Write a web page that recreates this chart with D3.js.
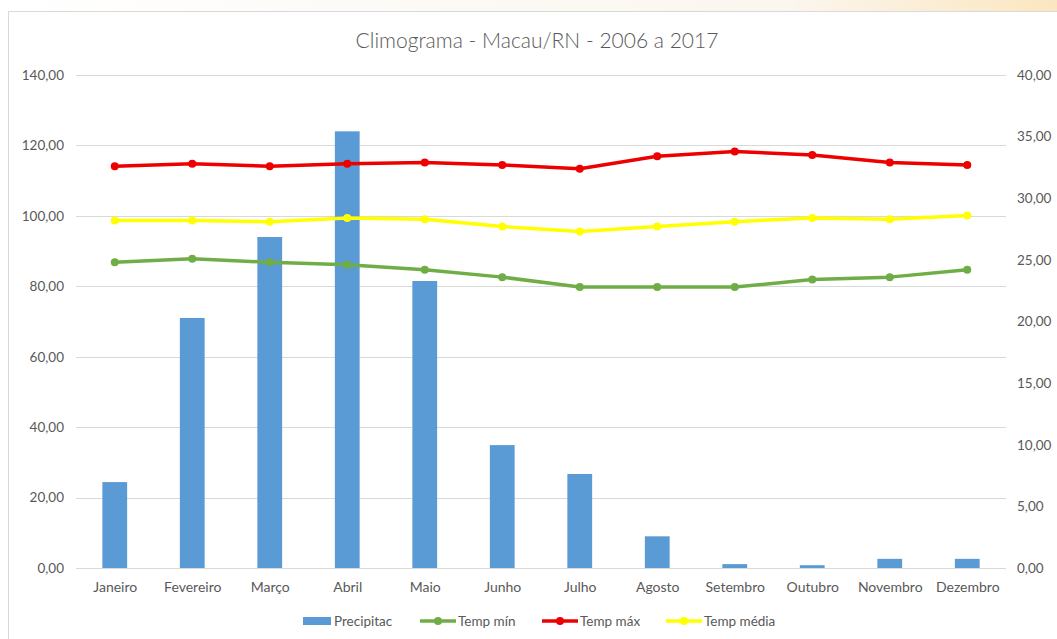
<!DOCTYPE html>
<html><head><meta charset="utf-8">
<script src="https://cdn.jsdelivr.net/npm/d3@7/dist/d3.min.js"></script>
<style>html,body{margin:0;padding:0;background:#fff;}svg{display:block;}</style>
</head><body>
<script>
const months = ["Janeiro","Fevereiro","Março","Abril","Maio","Junho","Julho","Agosto","Setembro","Outubro","Novembro","Dezembro"];
const precip = [24.4, 71.0, 94.0, 124.0, 81.5, 34.9, 26.7, 9.0, 1.1, 0.8, 2.6, 2.6];
const tempMin = [24.8, 25.1, 24.8, 24.6, 24.2, 23.6, 22.8, 22.8, 22.8, 23.4, 23.6, 24.2];
const tempMax = [32.6, 32.8, 32.6, 32.8, 32.9, 32.7, 32.4, 33.4, 33.8, 33.5, 32.9, 32.7];
const tempMed = [28.2, 28.2, 28.1, 28.4, 28.3, 27.7, 27.3, 27.7, 28.1, 28.4, 28.3, 28.6];
const leftTicks = [0,20,40,60,80,100,120,140];
const rightTicks = [0,5,10,15,20,25,30,35,40];
const title = "Climograma - Macau/RN - 2006 a 2017";
const legendLabels = ["Precipitac","Temp mín","Temp máx","Temp média"];

const W = 1057, H = 639;
const font = "Lato, 'Open Sans', sans-serif";
const textCol = "#595959";
const svg = d3.select("body").append("svg").attr("width", W).attr("height", H);

// background strip above chart
const defs = svg.append("defs");
const g1 = defs.append("linearGradient").attr("id","topg").attr("x1","0").attr("x2","1");
g1.append("stop").attr("offset","0").attr("stop-color","#ffffff");
g1.append("stop").attr("offset","0.75").attr("stop-color","#fbf6ee");
g1.append("stop").attr("offset","1").attr("stop-color","#fbe6bf");
svg.append("rect").attr("x",0).attr("y",0).attr("width",W).attr("height",11).attr("fill","url(#topg)");
svg.append("rect").attr("x",0).attr("y",11).attr("width",W).attr("height",H-11).attr("fill","#fff");
svg.append("line").attr("x1",8).attr("x2",W).attr("y1",11.5).attr("y2",11.5).attr("stroke","#d9d9d9");
svg.append("line").attr("x1",8.5).attr("x2",8.5).attr("y1",11).attr("y2",H).attr("stroke","#d9d9d9");

const x0 = 76, x1 = 1006, yTop = 75, yBot = 568;
const x = d3.scaleBand().domain(months).range([x0, x1]).paddingInner(0.68).paddingOuter(0.34);
const xc = d3.scalePoint().domain(months).range([x0, x1]).padding(0.5);
const yL = d3.scaleLinear().domain([0,140]).range([yBot, yTop]);
const yR = d3.scaleLinear().domain([0,40]).range([yBot, yTop]);

// grid
svg.append("g").selectAll("line").data(leftTicks).join("line")
  .attr("x1", x0).attr("x2", x1)
  .attr("y1", d => Math.round(yL(d))+0.5).attr("y2", d => Math.round(yL(d))+0.5)
  .attr("stroke", "#d9d9d9").attr("stroke-width", 1);

// left axis
const axL = svg.append("g").attr("transform", `translate(${x0},0)`)
  .call(d3.axisLeft(yL).tickValues(leftTicks).tickSize(0).tickPadding(12)
    .tickFormat(d => d3.format(".2f")(d).replace(".", ",")));
axL.select(".domain").remove();
axL.selectAll("text").attr("fill", textCol).style("font-family", font).style("font-size","13.5px");

// right axis
const axR = svg.append("g").attr("transform", `translate(${x1},0)`)
  .call(d3.axisRight(yR).tickValues(rightTicks).tickSize(0).tickPadding(11)
    .tickFormat(d => d3.format(".2f")(d).replace(".", ",")));
axR.select(".domain").remove();
axR.selectAll("text").attr("fill", textCol).style("font-family", font).style("font-size","13.5px");

// bottom axis
const axB = svg.append("g").attr("transform", `translate(0,${yBot})`)
  .call(d3.axisBottom(xc).tickSize(0).tickPadding(14));
axB.select(".domain").remove();
axB.selectAll("text").attr("fill", textCol).style("font-family", font).style("font-size","14px");

// bars
svg.append("g").selectAll("rect").data(precip).join("rect")
  .attr("x", (d,i) => x(months[i])).attr("width", x.bandwidth())
  .attr("y", d => yL(d)).attr("height", d => yBot - yL(d))
  .attr("fill", "#5b9bd5");

// lines
const series = [
  {vals: tempMin, color: "#70ad47"},
  {vals: tempMax, color: "#ee0000"},
  {vals: tempMed, color: "#ffff00"}
];
const line = d3.line().x((d,i) => xc(months[i])).y(d => yR(d));
series.forEach(s => {
  svg.append("path").datum(s.vals).attr("d", line).attr("fill","none")
    .attr("stroke", s.color).attr("stroke-width", 3.5).attr("stroke-linejoin","round");
  svg.append("g").selectAll("circle").data(s.vals).join("circle")
    .attr("cx", (d,i) => xc(months[i])).attr("cy", d => yR(d)).attr("r", 4)
    .attr("fill", s.color);
});

// title
svg.append("text").attr("x", 537).attr("y", 48).attr("text-anchor","middle")
  .attr("fill", textCol).style("font-family", font).style("font-size","21px")
  .style("font-weight", 300).text(title);

// legend
const ly = 621;
const lg = svg.append("g");
lg.append("rect").attr("x", 303).attr("y", ly-4).attr("width", 28).attr("height", 8).attr("fill", "#5b9bd5");
lg.append("text").attr("x", 334).attr("y", ly+4.5).attr("fill", textCol).style("font-family", font).style("font-size","13.5px").text(legendLabels[0]);
const lItems = [
  {x: 420, color: "#70ad47", label: legendLabels[1]},
  {x: 542, color: "#ee0000", label: legendLabels[2]},
  {x: 666, color: "#ffff00", label: legendLabels[3]}
];
lItems.forEach(it => {
  lg.append("line").attr("x1", it.x).attr("x2", it.x+36).attr("y1", ly).attr("y2", ly)
    .attr("stroke", it.color).attr("stroke-width", 3.5);
  lg.append("circle").attr("cx", it.x+18).attr("cy", ly).attr("r", 4).attr("fill", it.color);
  lg.append("text").attr("x", it.x+38).attr("y", ly+4.5).attr("fill", textCol)
    .style("font-family", font).style("font-size","13.5px").text(it.label);
});
</script>
</body></html>
